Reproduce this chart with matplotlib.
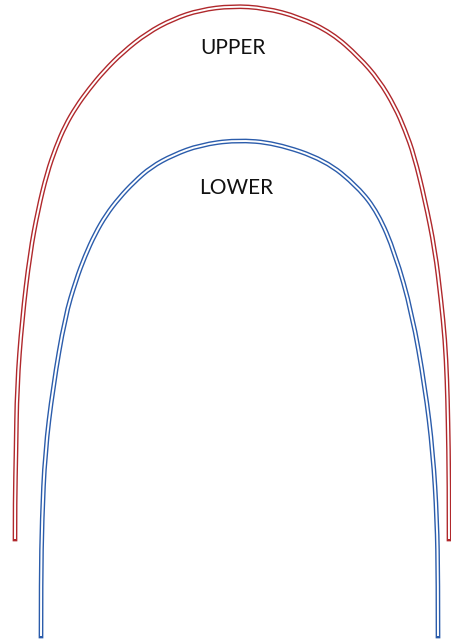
import matplotlib.pyplot as plt
from matplotlib.path import Path
from matplotlib.patches import PathPatch

# Upper arch wire (pixel coords, y grows downwards), left end -> right end
upper_x = [15, 15, 16, 17, 22, 30, 38, 47, 56, 65, 76, 89, 104, 123, 147, 173, 200, 232,
           265, 299, 332, 359, 379, 395, 405, 414, 425, 435, 441, 445, 447, 448, 449, 449]
upper_y = [539, 500, 453, 387, 320, 253, 210, 173, 147, 126, 107, 89, 71, 52, 33, 19, 10, 6,
           8, 17, 33, 57, 80, 107, 130, 155, 200, 250, 300, 340, 380, 420, 480, 539]

# Lower arch wire
lower_x = [41, 41, 42, 45, 53, 65, 76, 85, 95, 106, 119, 134, 151, 173, 200, 236,
           275, 325, 358, 378, 395, 412, 425, 433, 437, 438, 438]
lower_y = [636, 580, 520, 453, 387, 317, 280, 256, 234, 215, 198, 182, 167, 155, 145, 140,
           143, 160, 187, 213, 253, 313, 387, 453, 520, 580, 636]

labels = ['UPPER', 'LOWER']
label_pos = [(233, 48), (236, 188)]
colors = ['#b0282c', '#2b5cab']


def smooth_path(xs, ys):
    # quadratic b-spline style path: read points act as control points
    pts = list(zip(xs, ys))
    verts = [pts[0]]
    codes = [Path.MOVETO]
    for i in range(1, len(pts) - 1):
        if i < len(pts) - 2:
            end = ((pts[i][0] + pts[i + 1][0]) / 2, (pts[i][1] + pts[i + 1][1]) / 2)
        else:
            end = pts[-1]
        verts += [pts[i], end]
        codes += [Path.CURVE3, Path.CURVE3]
    return Path(verts, codes)


fig = plt.figure(figsize=(4.51, 6.39), dpi=100)
ax = fig.add_axes([0, 0, 1, 1])
ax.set_xlim(0, 451)
ax.set_ylim(639, 0)
ax.axis('off')

# wire drawn as a coloured tube with a white core
for xs, ys, c in [(upper_x, upper_y, colors[0]), (lower_x, lower_y, colors[1])]:
    p = smooth_path(xs, ys)
    ax.add_patch(PathPatch(p, fill=False, edgecolor=c, lw=3.4, capstyle='projecting', joinstyle='round'))
    ax.add_patch(PathPatch(p, fill=False, edgecolor='white', lw=1.4, capstyle='butt', joinstyle='round'))

for text, (x, y) in zip(labels, label_pos):
    ax.text(x, y, text, ha='center', va='center', fontsize=15, family='Lato', color='#111111')

fig.savefig('out.png', dpi=100)
